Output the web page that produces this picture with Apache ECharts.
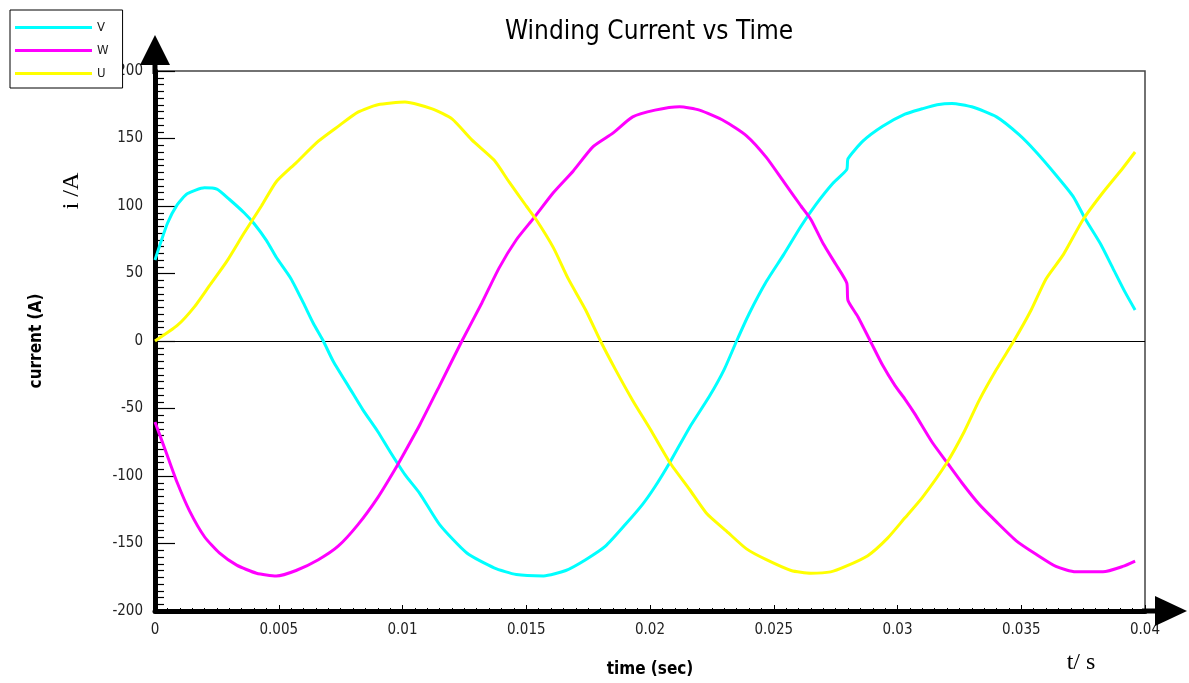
<!DOCTYPE html>
<html>
<head>
<meta charset="utf-8">
<script src="https://cdn.jsdelivr.net/npm/echarts@6/dist/echarts.min.js"></script>
<style>
html,body{margin:0;padding:0;background:#fff;}
#chart{width:1189px;height:683px;}
</style>
</head>
<body>
<div id="chart"></div>
<script>
// ---- data ----
const seriesNames = ['V', 'W', 'U'];
const xTickLabels = ['0', '0.005', '0.01', '0.015', '0.02', '0.025', '0.03', '0.035', '0.04'];
const yTickLabels = ['-200', '-150', '-100', '-50', '0', '50', '100', '150', '200'];

const vTime = [0, 0.0005, 0.0009, 0.0013, 0.002, 0.0025, 0.003, 0.0036, 0.004, 0.0045, 0.0049, 0.0055, 0.006, 0.0064, 0.0068, 0.0072, 0.0079, 0.0084, 0.009, 0.0095, 0.0101, 0.0107, 0.0115, 0.0126, 0.0137, 0.0146, 0.0157, 0.0166, 0.0174, 0.0182, 0.019, 0.0197, 0.0202, 0.0208, 0.0216, 0.0224, 0.023, 0.0235, 0.024, 0.0247, 0.0254, 0.0261, 0.0267, 0.0274, 0.02795, 0.0280, 0.0286, 0.0294, 0.0303, 0.0310, 0.0316, 0.0322, 0.033, 0.034, 0.0349, 0.0356, 0.0364, 0.0371, 0.0376, 0.0382, 0.0387, 0.0392, 0.0396];
const vCurrent = [60, 87, 101, 109, 113.5, 112.5, 105, 95, 87, 74.5, 62, 46, 28, 13, 0, -15, -36, -51, -67, -82, -99, -113, -136, -157, -168, -173, -174, -170, -162, -152, -136, -121, -108, -90, -64, -41, -21, 0, 20, 44, 64, 85, 101, 117, 127, 135, 148, 159, 168, 172, 175, 176, 173.5, 166, 153, 140, 123, 107, 90, 72, 54, 36, 23];

const wTime = [0, 0.0005, 0.0009, 0.0014, 0.002, 0.0026, 0.0033, 0.0041, 0.0049, 0.0057, 0.0066, 0.0074, 0.0082, 0.009, 0.0097, 0.0101, 0.0107, 0.0115, 0.0124, 0.0132, 0.0139, 0.0146, 0.0153, 0.0161, 0.0169, 0.0177, 0.0185, 0.0193, 0.0202, 0.0212, 0.022, 0.023, 0.0239, 0.0247, 0.0254, 0.0261, 0.0265, 0.027, 0.0275, 0.02795, 0.0280, 0.0284, 0.0289, 0.0294, 0.0299, 0.0303, 0.0307, 0.0314, 0.032, 0.0326, 0.0333, 0.034, 0.0348, 0.0356, 0.0364, 0.0372, 0.0383, 0.0391, 0.0396];
const wCurrent = [-60, -85, -105, -126, -145, -157, -166, -172, -174, -170, -162, -152, -136, -116, -95, -82, -62, -33, 0, 28, 54, 75, 91, 110, 126, 144, 154, 166, 171, 173.5, 171, 163, 152, 136, 118, 100, 90, 72, 57, 43, 30, 18, 0, -18, -33, -43, -54, -75, -90, -105, -121, -134, -148, -158, -167, -171, -171, -167, -163];

const uTime = [0, 0.0009, 0.0016, 0.0022, 0.0029, 0.0036, 0.0043, 0.0049, 0.0057, 0.0066, 0.0074, 0.0082, 0.009, 0.0101, 0.0112, 0.012, 0.0128, 0.0137, 0.0143, 0.015, 0.0154, 0.0161, 0.0167, 0.0174, 0.018, 0.0186, 0.0193, 0.02, 0.0208, 0.0216, 0.0223, 0.0231, 0.0239, 0.0247, 0.0257, 0.0265, 0.0273, 0.0279, 0.0288, 0.0296, 0.0303, 0.031, 0.032, 0.0327, 0.0333, 0.034, 0.0347, 0.0354, 0.036, 0.0367, 0.0375, 0.0383, 0.0391, 0.0396];
const uCurrent = [0, 11.5, 25.5, 41, 59, 80, 100, 118, 132, 148, 159, 169.5, 175, 177, 172, 164.5, 149, 134, 118, 100, 90, 69, 46, 23, 0, -21, -44, -65, -90, -110, -128, -141, -154, -162, -170, -172, -171, -167, -159, -146, -131, -116, -90, -67, -44, -21, 0, 23, 46, 64, 90, 110, 128, 140];

// ---- build ----
function pairs(t, v) { return t.map((x, i) => [x, v[i]]); }
const seriesData = [pairs(vTime, vCurrent), pairs(wTime, wCurrent), pairs(uTime, uCurrent)];
const colors = ['#00ffff', '#ff00ff', '#ffff00'];
const NARROW = '"Liberation Sans Narrow", "DejaVu Sans Condensed", "Arial Narrow", sans-serif';
const SERIF = '"Liberation Serif", "Times New Roman", serif';

const xLabelMap = {};
xTickLabels.forEach(s => { xLabelMap[Number(s).toFixed(3)] = s; });
const yLabelMap = {};
yTickLabels.forEach(s => { yLabelMap[Number(s)] = s; });

const chart = echarts.init(document.getElementById('chart'), null, {renderer: 'canvas'});
const option = {
  backgroundColor: '#ffffff',
  animation: false,
  title: {
    text: 'Winding Current vs Time',
    left: 500, top: 14,
    textStyle: {fontFamily: NARROW, fontSize: 26, fontWeight: 'normal', color: '#000'}
  },
  legend: {
    data: seriesNames,
    orient: 'vertical',
    left: 10, top: 10,
    padding: [11, 14, 8, 5],
    itemGap: 10,
    icon: 'rect',
    itemWidth: 77, itemHeight: 3,
    borderColor: '#000', borderWidth: 1,
    backgroundColor: '#fff',
    textStyle: {fontFamily: NARROW, fontSize: 13, color: '#222'}
  },
  grid: {
    left: 155, right: 44, top: 71, bottom: 72,
    show: true, borderColor: '#444', borderWidth: 1.5, backgroundColor: '#fff'
  },
  xAxis: {
    type: 'value', min: 0, max: 0.04, interval: 0.005,
    name: 'time (sec)', nameLocation: 'middle', nameGap: 50,
    nameTextStyle: {fontFamily: NARROW, fontSize: 17, fontWeight: 'bold', color: '#000'},
    axisLine: {show: true, onZero: false, lineStyle: {color: '#000', width: 5},
      symbol: ['none', 'triangle'], symbolSize: [30, 32], symbolOffset: [0, 26]},
    axisTick: {show: true, inside: true, length: 6, lineStyle: {color: '#000', width: 1}},
    minorTick: {show: true, splitNumber: 10, length: 3, lineStyle: {color: '#000', width: 1}},
    axisLabel: {margin: 12, fontFamily: NARROW, fontSize: 15, color: '#222',
      formatter: v => xLabelMap[v.toFixed(3)] || ''},
    splitLine: {show: false}
  },
  yAxis: {
    type: 'value', min: -200, max: 200, interval: 50,
    name: 'current (A)', nameLocation: 'middle', nameGap: 110, nameRotate: 90,
    nameTextStyle: {fontFamily: NARROW, fontSize: 17, fontWeight: 'bold', color: '#000'},
    axisLine: {show: true, onZero: false, lineStyle: {color: '#000', width: 5},
      symbol: ['none', 'triangle'], symbolSize: [30, 30], symbolOffset: [0, 21]},
    axisTick: {show: true, inside: true, length: 20, lineStyle: {color: '#000', width: 1.2}},
    minorTick: {show: true, splitNumber: 10, length: 9, lineStyle: {color: '#000', width: 1.2}},
    axisLabel: {margin: 12, fontFamily: NARROW, fontSize: 15, color: '#222',
      formatter: v => (yLabelMap[v] !== undefined ? yLabelMap[v] : '')},
    splitLine: {show: false}
  },
  graphic: [
    {type: 'rect', shape: {x: 152.5, y: 60, width: 5, height: 14}, style: {fill: '#000'}, z: 100},
    {type: 'rect', shape: {x: 1142, y: 608.5, width: 16, height: 5}, style: {fill: '#000'}, z: 100},
    {type: 'text', x: 72, y: 191, rotation: Math.PI / 2,
      style: {text: 'i /A', font: '24px ' + SERIF, fill: '#000', align: 'center', verticalAlign: 'middle'}, z: 100},
    {type: 'text', x: 1081, y: 663,
      style: {text: 't/ s', font: '24px ' + SERIF, fill: '#000', align: 'center', verticalAlign: 'middle'}, z: 100}
  ],
  series: seriesNames.map((name, i) => ({
    name: name,
    type: 'line',
    data: seriesData[i],
    showSymbol: false,
    symbol: 'none',
    smooth: 0.2,
    color: colors[i],
    lineStyle: {color: colors[i], width: 3},
    z: 3,
    markLine: i === 0 ? {
      silent: true, symbol: 'none', label: {show: false},
      lineStyle: {color: '#000', width: 1, type: 'solid'},
      data: [{yAxis: 0}],
      z: 1
    } : undefined
  }))
};
chart.setOption(option);
</script>
</body>
</html>
